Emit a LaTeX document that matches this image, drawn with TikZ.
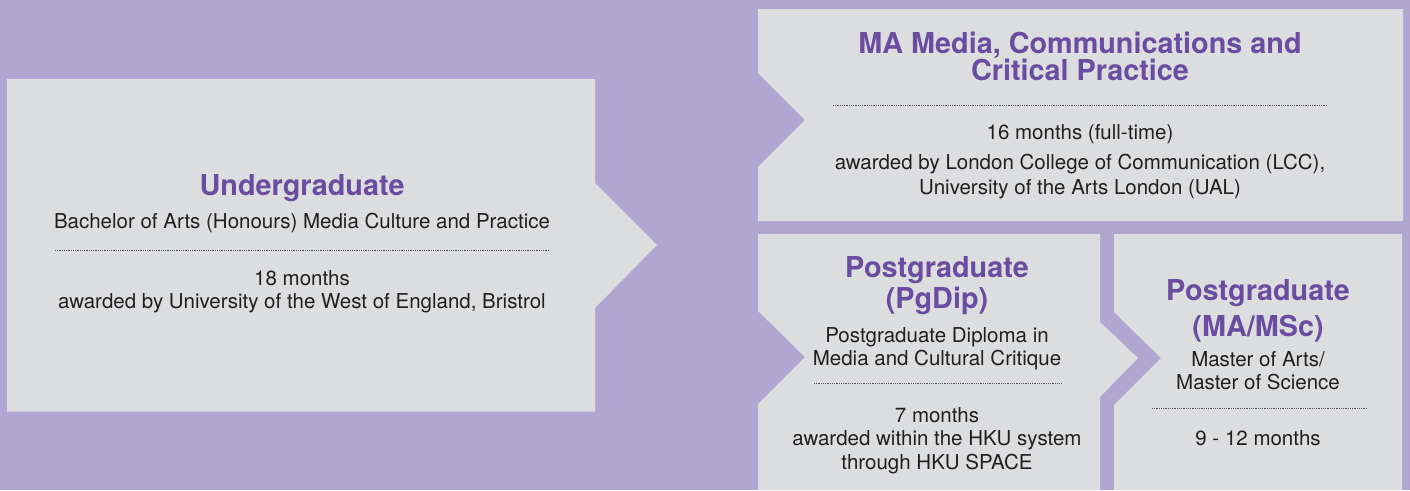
\documentclass[tikz,border=0pt]{standalone}
\usepackage{fontspec}
\setmainfont{TeX Gyre Heros}

\definecolor{lavender}{HTML}{B0A6D1}
\definecolor{panel}{HTML}{DCDDDF}
\definecolor{heading}{HTML}{6A4DA0}
\definecolor{ink}{HTML}{231F20}

\tikzstyle{block} = [fill=panel, draw=none]
\tikzstyle{title} = [anchor=base, inner sep=0pt, text=heading, font=\fontsize{28.8}{30}\selectfont\bfseries]
\tikzstyle{body} = [anchor=base, inner sep=0pt, text=ink, font=\fontsize{20.5}{24}\selectfont]
\tikzstyle{rule} = [line width=0.9pt, draw=ink!75, dash pattern=on 0.9pt off 0.9pt]

\begin{document}
\begin{tikzpicture}[x=1pt, y=-1pt]
 %背景
\fill [lavender] (0,0) rectangle (1410,490);
\useasboundingbox (0,0) rectangle (1410,490);

%画出各个色块
\fill [block] (7,79) -- (595,79) -- (595,183) -- (657,245) -- (595,308) -- (595,411.5) -- (7,411.5) -- cycle;
\fill [block] (758,9) -- (1403,9) -- (1403,221) -- (758,221) -- (758,167) -- (805,120) -- (758,73) -- cycle;
\fill [block] (758,234) -- (1100,234) -- (1100,322) -- (1138,358) -- (1100,397) -- (1100,490) -- (758,490) -- (758,404) -- (805,357) -- (758,311) -- cycle;
\fill [block] (1114,234) -- (1402,234) -- (1402,490) -- (1114,490) -- (1114,405) -- (1161,358) -- (1114,312) -- cycle;

%Undergraduate
\node (UGtitle) [title] at (302,195) {Undergraduate};
\node (UGdegree) [body] at (302,228) {Bachelor of Arts (Honours) Media Culture and Practice};
\draw [rule] (55,250) -- (550,250);
\node (UGlength) [body] at (302,285) {18 months};
\node (UGaward) [body] at (302,308) {awarded by University of the West of England, Bristrol};

%MA
\node (MAtitleA) [title] at (1080,53) {MA Media, Communications and};
\node (MAtitleB) [title] at (1080,80) {Critical Practice};
\draw [rule] (833,105) -- (1328,105);
\node (MAlength) [body] at (1080,139) {16 months (full-time)};
\node (MAawardA) [body] at (1080,169) {awarded by London College of Communication (LCC),};
\node (MAawardB) [body] at (1080,194) {University of the Arts London (UAL)};

%PgDip
\node (PDtitleA) [title] at (937,277) {Postgraduate};
\node (PDtitleB) [title] at (937,308) {(PgDip)};
\node (PDdegreeA) [body] at (937,342) {Postgraduate Diploma in};
\node (PDdegreeB) [body] at (937,365) {Media and Cultural Critique};
\draw [rule] (814,383) -- (1061,383);
\node (PDlength) [body] at (937,422) {7 months};
\node (PDawardA) [body] at (937,445) {awarded within the HKU system};
\node (PDawardB) [body] at (937,469) {through HKU SPACE};

%MA/MSc
\node (MStitleA) [title] at (1258,300) {Postgraduate};
\node (MStitleB) [title] at (1258,336) {(MA/MSc)};
\node (MSdegreeA) [body] at (1258,366) {Master of Arts/};
\node (MSdegreeB) [body] at (1258,389) {Master of Science};
\draw [rule] (1152,408) -- (1367,408);
\node (MSlength) [body] at (1258,445) {9 - 12 months};

\end{tikzpicture}
\end{document}
